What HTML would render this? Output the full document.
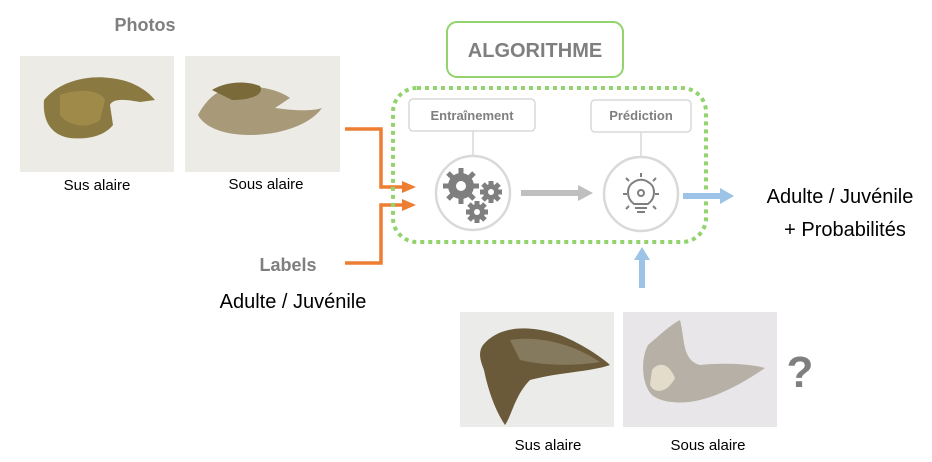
<!DOCTYPE html>
<html><head><meta charset="utf-8"><style>
html,body{margin:0;padding:0;background:#fff;}
svg{display:block;font-family:"Liberation Sans",sans-serif;}
</style></head><body>
<svg width="932" height="462" viewBox="0 0 932 462" xmlns="http://www.w3.org/2000/svg">
<defs>
<marker id="ao" markerWidth="14" markerHeight="14" refX="4" refY="7" orient="auto" markerUnits="userSpaceOnUse"><path d="M0,1 L14,7 L0,13 z" fill="#ed7d31"/></marker>
</defs>
<text x="145" y="31" font-size="18" font-weight="bold" fill="#7f7f7f" text-anchor="middle">Photos</text>
<rect x="20" y="56" width="154" height="116" fill="#ecebe6"/>
<path d="M44,100 C60,80 90,75 110,78 C130,80 145,88 155,100 L140,102 C120,98 112,100 110,105 L113,125 C105,135 90,140 70,138 C55,136 42,125 44,100 z" fill="#8a7a42"/>
<path d="M60,95 C80,88 100,90 105,100 L100,120 C90,128 70,128 60,115 z" fill="#a8914f" opacity="0.7"/>
<text x="97" y="190" font-size="15" fill="#000" text-anchor="middle">Sus alaire</text>
<rect x="185" y="56" width="155" height="116" fill="#ecebe6"/>
<path d="M198,115 C210,92 228,84 250,86 C270,88 282,92 290,98 L275,108 C290,110 310,112 322,108 C310,125 280,135 250,135 C225,135 205,128 198,115 z" fill="#a89a78"/>
<path d="M212,90 C225,82 245,80 260,86 C265,95 250,100 232,100 z" fill="#7a6a3a"/>
<text x="266" y="189" font-size="15" fill="#000" text-anchor="middle">Sous alaire</text>

<text x="288" y="271" font-size="18" font-weight="bold" fill="#7f7f7f" text-anchor="middle">Labels</text>
<text x="293" y="308" font-size="20" fill="#000" text-anchor="middle">Adulte / Juvénile</text>

<polyline points="345,129 381,129 381,187 406,187" fill="none" stroke="#ed7d31" stroke-width="3.5" marker-end="url(#ao)"/>
<polyline points="345,263 381,263 381,205 406,205" fill="none" stroke="#ed7d31" stroke-width="3.5" marker-end="url(#ao)"/>

<rect x="447" y="22" width="176" height="55" rx="10" fill="#fff" stroke="#92d36e" stroke-width="2"/>
<text x="535" y="57" font-size="20" font-weight="bold" fill="#7f7f7f" text-anchor="middle">ALGORITHME</text>

<rect x="393" y="88" width="313" height="154" rx="24" fill="none" stroke="#92d36e" stroke-width="4" stroke-dasharray="4 4"/>

<rect x="409" y="99" width="126" height="32" rx="4" fill="#fff" stroke="#d9d9d9" stroke-width="1.5"/>
<text x="472" y="120" font-size="13" font-weight="bold" fill="#7f7f7f" text-anchor="middle">Entraînement</text>
<line x1="473" y1="131" x2="473" y2="157" stroke="#d9d9d9" stroke-width="1.5"/>
<circle cx="473" cy="193" r="37" fill="#fff" stroke="#d9d9d9" stroke-width="2.5"/>
<g fill="#7f7f7f">
<circle cx="461" cy="186" r="13"/>
<g stroke="#7f7f7f" stroke-width="5">
<line x1="461" y1="168" x2="461" y2="204"/><line x1="443" y1="186" x2="479" y2="186"/>
<line x1="448" y1="173" x2="474" y2="199"/><line x1="448" y1="199" x2="474" y2="173"/>
<line x1="491" y1="181" x2="491" y2="203"/><line x1="480" y1="192" x2="502" y2="192"/>
<line x1="483" y1="184" x2="499" y2="200"/><line x1="483" y1="200" x2="499" y2="184"/>
<line x1="477" y1="201" x2="477" y2="223"/><line x1="466" y1="212" x2="488" y2="212"/>
<line x1="469" y1="204" x2="485" y2="220"/><line x1="469" y1="220" x2="485" y2="204"/>
</g>
<circle cx="491" cy="192" r="8"/><circle cx="477" cy="212" r="8"/>
</g>
<circle cx="461" cy="186" r="5" fill="#fff"/><circle cx="491" cy="192" r="3" fill="#fff"/><circle cx="477" cy="212" r="3" fill="#fff"/>

<line x1="521" y1="193" x2="580" y2="193" stroke="#bfbfbf" stroke-width="6"/>
<path d="M578,185 L593,193 L578,201 z" fill="#bfbfbf"/>

<rect x="591" y="100" width="100" height="32" rx="4" fill="#fff" stroke="#d9d9d9" stroke-width="1.5"/>
<text x="641" y="120" font-size="13" font-weight="bold" fill="#7f7f7f" text-anchor="middle">Prédiction</text>
<line x1="641" y1="132" x2="641" y2="158" stroke="#d9d9d9" stroke-width="1.5"/>
<circle cx="641" cy="194" r="37" fill="#fff" stroke="#d9d9d9" stroke-width="2.5"/>
<g stroke="#7f7f7f" stroke-width="2" fill="none">
<path d="M634,204 C626,198 626,186 634,182 C638,179 644,179 648,182 C656,186 656,198 648,204 z"/>
<line x1="635" y1="208" x2="647" y2="208"/><line x1="637" y1="212" x2="645" y2="212"/>
<line x1="641" y1="173" x2="641" y2="177"/><line x1="627" y1="194" x2="623" y2="194"/><line x1="655" y1="194" x2="659" y2="194"/>
<line x1="629" y1="181" x2="626" y2="178"/><line x1="653" y1="181" x2="656" y2="178"/>
<line x1="629" y1="206" x2="626" y2="209"/><line x1="653" y1="206" x2="656" y2="209"/>
<circle cx="641" cy="193" r="3"/>
</g>

<line x1="683" y1="196" x2="722" y2="196" stroke="#9dc3e6" stroke-width="6"/>
<path d="M720,188 L734,196 L720,204 z" fill="#9dc3e6"/>
<line x1="642" y1="288" x2="642" y2="258" stroke="#9dc3e6" stroke-width="6"/>
<path d="M634,260 L642,247 L650,260 z" fill="#9dc3e6"/>

<text x="840" y="203" font-size="20" fill="#000" text-anchor="middle">Adulte / Juvénile</text>
<text x="845" y="236" font-size="20" fill="#000" text-anchor="middle">+ Probabilités</text>

<rect x="460" y="312" width="154" height="115" fill="#ebebea"/>
<path d="M483,345 C500,325 530,325 560,335 C585,345 605,360 610,365 C590,372 560,372 530,380 C515,395 512,415 505,425 C495,410 488,390 484,370 C480,360 478,352 483,345 z" fill="#6a5a3a"/>
<path d="M510,340 C540,335 575,345 600,362 C575,366 545,366 520,360 z" fill="#8d8268" opacity="0.8"/>
<text x="548" y="450" font-size="15" fill="#000" text-anchor="middle">Sus alaire</text>
<rect x="623" y="312" width="154" height="115" fill="#e8e6e8"/>
<path d="M648,345 C660,335 670,325 680,320 C685,340 682,360 700,365 C730,362 755,365 765,368 C740,385 720,395 700,400 C680,405 660,402 652,395 C642,385 640,360 648,345 z" fill="#b6b0a6"/>
<path d="M652,370 C660,360 670,365 675,378 C668,392 655,395 650,385 z" fill="#e4dccb"/>
<text x="708" y="450" font-size="15" fill="#000" text-anchor="middle">Sous alaire</text>

<text x="800" y="387" font-size="44" font-weight="bold" fill="#7f7f7f" text-anchor="middle">?</text>
</svg>
</body></html>
